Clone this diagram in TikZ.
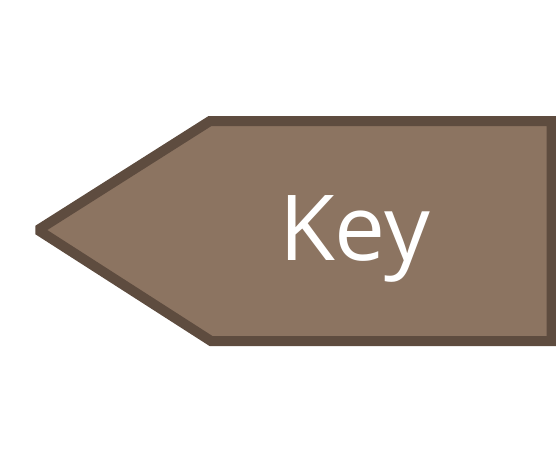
\documentclass[tikz,border=0pt]{standalone}
\usepackage{fontspec}
\setmainfont{Open Sans}
\definecolor{keyfill}{HTML}{8C7461}
\definecolor{keyline}{HTML}{5E4C3F}
\tikzset{
  keyshape/.style={draw=keyline, fill=keyfill, line width=10pt, line join=miter, miter limit=1.5},
  keytext/.style={text=white, font=\fontsize{91}{91}\selectfont, inner sep=0pt, anchor=base}
}
\begin{document}
\begin{tikzpicture}[x=1pt,y=-1pt]
\useasboundingbox (0,0) rectangle (556,461);
\begin{scope}
\clip (0,0) rectangle (556,461);
\draw[keyshape] (38,230) -- (210,121) -- (551.5,121) -- (551.5,341) -- (211,341) -- cycle;
\end{scope}
\node[keytext] (key) at (354.5,260.7) {Key};
\end{tikzpicture}
\end{document}
